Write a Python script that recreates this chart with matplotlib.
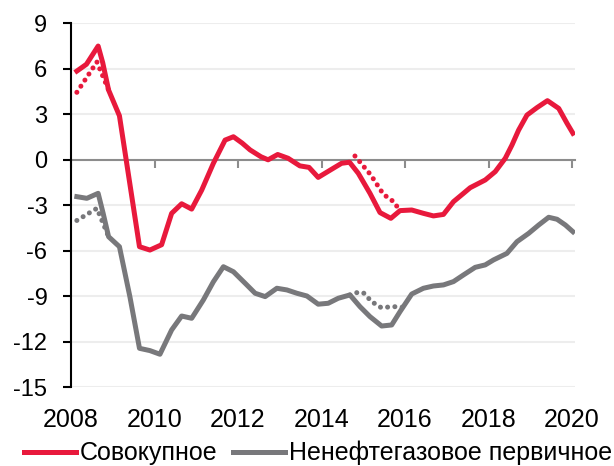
import matplotlib
matplotlib.use("Agg")
import matplotlib.pyplot as plt

plt.rcParams["font.family"] = ["Liberation Sans", "DejaVu Sans"]

# Совокупное (solid)
total_x = [2008.14, 2008.37, 2008.65, 2008.76, 2008.90, 2009.16, 2009.64, 2009.89,
           2010.17, 2010.41, 2010.65, 2010.89, 2011.13, 2011.41, 2011.69, 2011.89,
           2012.10, 2012.29, 2012.55, 2012.72, 2012.95, 2013.20, 2013.48, 2013.70,
           2013.92, 2014.28, 2014.48, 2014.67, 2014.88, 2015.16, 2015.40, 2015.66,
           2015.88, 2016.16, 2016.44, 2016.68, 2016.92, 2017.16, 2017.40, 2017.56,
           2017.92, 2018.16, 2018.40, 2018.56, 2018.72, 2018.92, 2019.16, 2019.41,
           2019.68, 2019.88, 2020.02]
total_y = [5.85, 6.3, 7.5, 6.4, 4.6, 2.9, -5.73, -5.95,
           -5.6, -3.53, -2.9, -3.25, -2.0, -0.23, 1.3, 1.52,
           1.1, 0.65, 0.2, 0.0, 0.35, 0.1, -0.4, -0.5,
           -1.16, -0.56, -0.23, -0.16, -0.89, -2.21, -3.48, -3.86,
           -3.35, -3.31, -3.53, -3.7, -3.6, -2.76, -2.21, -1.84,
           -1.33, -0.78, 0.1, 0.97, 1.96, 2.95, 3.44, 3.9,
           3.39, 2.4, 1.75]

# Ненефтегазовое первичное (solid)
nonoil_x = [2008.14, 2008.38, 2008.65, 2008.77, 2008.90, 2009.16, 2009.41, 2009.64,
            2009.89, 2010.13, 2010.41, 2010.65, 2010.89, 2011.17, 2011.41, 2011.65,
            2011.89, 2012.17, 2012.41, 2012.65, 2012.93, 2013.17, 2013.41, 2013.65,
            2013.92, 2014.16, 2014.40, 2014.68, 2014.92, 2015.16, 2015.44, 2015.68,
            2015.88, 2016.16, 2016.44, 2016.68, 2016.92, 2017.16, 2017.40, 2017.68,
            2017.92, 2018.12, 2018.44, 2018.68, 2018.96, 2019.20, 2019.44, 2019.64,
            2019.84, 2020.02]
nonoil_y = [-2.43, -2.54, -2.21, -3.53, -5.07, -5.73, -9.02, -12.43,
            -12.58, -12.82, -11.22, -10.3, -10.45, -9.24, -8.04, -7.05,
            -7.38, -8.14, -8.8, -9.02, -8.47, -8.58, -8.8, -8.98,
            -9.52, -9.46, -9.13, -8.91, -9.68, -10.34, -10.96, -10.89,
            -10.01, -8.85, -8.47, -8.32, -8.25, -8.03, -7.59, -7.09,
            -6.93, -6.6, -6.17, -5.4, -4.85, -4.3, -3.79, -3.92,
            -4.3, -4.74]

# dotted (alternative estimates)
total_dot1_x = [2008.14, 2008.62, 2008.90]
total_dot1_y = [4.45, 6.45, 4.6]
total_dot2_x = [2014.80, 2015.18, 2015.48, 2015.72, 2015.88]
total_dot2_y = [0.25, -1.0, -2.27, -2.75, -3.35]
nonoil_dot1_x = [2008.14, 2008.62, 2008.90]
nonoil_dot1_y = [-4.0, -3.2, -5.07]
nonoil_dot2_x = [2014.68, 2014.80, 2015.00, 2015.20, 2015.43, 2015.72, 2015.95]
nonoil_dot2_y = [-8.91, -8.76, -8.76, -9.35, -9.75, -9.68, -9.72]

years = [2008, 2010, 2012, 2014, 2016, 2018, 2020]
yticks = [9, 6, 3, 0, -3, -6, -9, -12, -15]

red = "#E8193C"
gray = "#78787B"

fig = plt.figure(figsize=(6.14, 4.66), dpi=100)
ax = fig.add_axes([71 / 614, 1 - 387.3 / 466, 504 / 614, 364 / 466])

lw = 3.6
dots = (0, (0.01, 1.45))
ax.plot(total_dot1_x, total_dot1_y, color=red, lw=lw, linestyle=dots, dash_capstyle="round")
ax.plot(total_dot2_x, total_dot2_y, color=red, lw=lw, linestyle=dots, dash_capstyle="round")
ax.plot(nonoil_dot1_x, nonoil_dot1_y, color=gray, lw=lw, linestyle=dots, dash_capstyle="round")
ax.plot(nonoil_dot2_x, nonoil_dot2_y, color=gray, lw=lw, linestyle=dots, dash_capstyle="round")
ax.plot(total_x, total_y, color=red, lw=lw, solid_joinstyle="round", label="Совокупное")
ax.plot(nonoil_x, nonoil_y, color=gray, lw=lw, solid_joinstyle="round",
        label="Ненефтегазовое первичное")

ax.set_xlim(2008, 2020.07)
ax.set_ylim(-15, 9)
ax.set_yticks(yticks)
ax.set_yticklabels([str(v) for v in yticks])
ax.grid(axis="y", color="#EDEDED", lw=1.5)
ax.set_axisbelow(True)

for s in ["top", "right"]:
    ax.spines[s].set_visible(False)
ax.spines["left"].set_color("black")
ax.spines["left"].set_linewidth(1.5)
ax.spines["bottom"].set_position(("data", 0))
ax.spines["bottom"].set_color("#8C8C8C")
ax.spines["bottom"].set_linewidth(1.5)
ax.spines["bottom"].set_zorder(1.5)

ax.set_xticks(years)
ax.tick_params(axis="x", direction="out", length=6, width=1.5, color="#8C8C8C",
               labelbottom=False)
ax.tick_params(axis="y", direction="out", length=6, width=1.5, color="black",
               labelsize=17, pad=11)

sec = ax.secondary_xaxis("bottom")
sec.set_xticks(years)
sec.set_xticklabels([str(y) for y in years])
sec.tick_params(length=0, labelsize=18, pad=15)
sec.spines["bottom"].set_visible(False)

fig.legend(loc="center", bbox_to_anchor=(318 / 614, 1 - 453 / 466), ncol=2,
           frameon=False, fontsize=18, handlelength=2.08, handletextpad=0.16,
           columnspacing=0.6, borderpad=0, borderaxespad=0)

fig.savefig("out.png", dpi=100)
